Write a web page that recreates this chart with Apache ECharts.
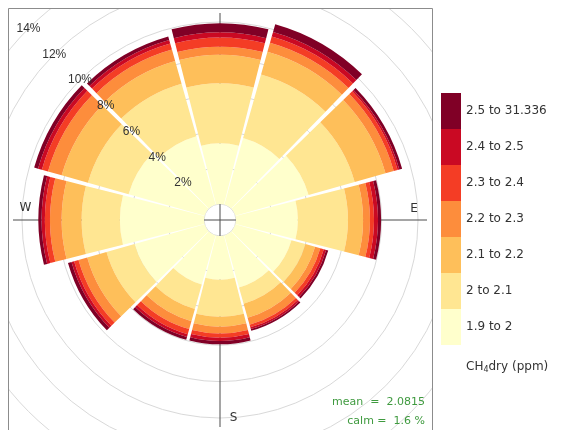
<!DOCTYPE html>
<html><head><meta charset="utf-8">
<script src="https://cdn.jsdelivr.net/npm/echarts@6/dist/echarts.min.js"></script>
<style>html,body{margin:0;padding:0;background:#fff}#c{width:566px;height:430px}</style>
</head><body><div id="c"></div>
<script>
// wind sectors (clockwise from north)
const directions = ['N','NNE','ENE','E','ESE','SSE','S','SSW','WSW','W','WNW','NNW'];
// concentration bins (ppm) and colours
const binLabels = ['1.9 to 2','2 to 2.1','2.1 to 2.2','2.2 to 2.3','2.3 to 2.4','2.4 to 2.5','2.5 to 31.336'];
const binColors = ['#FFFFCC','#FFE692','#FEBF5A','#FD8D3C','#F43D25','#CA0923','#800026'];
// frequency (%) of each bin per direction
const bin_1_9_to_2   = [3.33,3.80,4.18,3.40,3.20,2.97,2.40,2.80,4.00,4.62,4.34,3.90];
const bin_2_to_2_1   = [3.30,3.63,2.63,2.75,0.80,0.93,2.03,1.40,1.60,2.10,2.32,3.00];
const bin_2_1_to_2_2 = [1.56,1.29,1.76,0.83,0.55,0.80,0.55,0.70,1.10,1.10,1.50,1.30];
const bin_2_2_to_2_3 = [0.45,0.52,0.47,0.38,0.30,0.40,0.37,0.45,0.50,0.64,0.78,0.65];
const bin_2_3_to_2_4 = [0.50,0.35,0.22,0.22,0.20,0.15,0.24,0.30,0.25,0.28,0.35,0.35];
const bin_2_4_to_2_5 = [0.29,0.27,0.10,0.22,0.13,0.10,0.18,0.15,0.15,0.18,0.22,0.20];
const bin_2_5_to_31  = [0.50,0.44,0.16,0.17,0.12,0.10,0.18,0.16,0.20,0.18,0.22,0.20];
const binValues = [bin_1_9_to_2,bin_2_to_2_1,bin_2_1_to_2_2,bin_2_2_to_2_3,bin_2_3_to_2_4,bin_2_4_to_2_5,bin_2_5_to_31];
// radial percentage scale
const radiusMax = 16;
const radiusStep = 2;
const statsText = ['mean  =  2.0815', 'calm =  1.6 %'];

const C = [220, 220];
const inner = 16, pxPerPct = 18.2;
const outer = inner + pxPerPct * radiusMax;
const hidden = {show:false};

const chart = echarts.init(document.getElementById('c'));
chart.setOption({
  animation: false,
  backgroundColor: '#fff',
  polar: [
    {center: C, radius: [0, 207]},
    {center: C, radius: [inner, outer]},
    {center: C, radius: [inner, outer]},
    {center: C, radius: [inner, outer]}
  ],
  angleAxis: [
    {polarIndex:0, type:'value', min:0, max:360, interval:90, startAngle:90,
     axisLine:hidden, axisTick:hidden, axisLabel:hidden,
     splitLine:{show:true, lineStyle:{color:'#4d4d4d', width:1}}},
    {polarIndex:1, type:'value', min:0, max:360, startAngle:135,
     axisLine:hidden, axisTick:hidden, axisLabel:hidden, splitLine:hidden},
    {polarIndex:2, type:'category', data: directions, startAngle: 90 + 15, clockwise: true,
     axisLine:hidden, axisTick:hidden, axisLabel:hidden, splitLine:hidden},
    {polarIndex:3, type:'value', min:0, max:360, startAngle:135,
     axisLine:hidden, axisTick:hidden, axisLabel:hidden, splitLine:hidden}
  ],
  radiusAxis: [
    {polarIndex:0, type:'value', show:false, min:0, max:1},
    {polarIndex:1, type:'value', min:0, max:radiusMax, interval:radiusStep,
     axisLine:hidden, axisTick:hidden, axisLabel:hidden,
     splitLine:{show:true, showMinLine:false, lineStyle:{color:'#d9d9d9', width:1}}},
    {polarIndex:2, type:'value', min:0, max:radiusMax, show:false},
    {polarIndex:3, type:'value', min:0, max:radiusMax, interval:radiusStep, z:8,
     axisLine:hidden, axisTick:hidden, splitLine:hidden,
     axisLabel:{show:true, rotate:0, margin:0, align:'center', verticalAlign:'middle',
       fontFamily:'Liberation Sans', fontSize:12, color:'#333',
       formatter: v => v === 0 ? '' : v + '%'}}
  ],
  legend: {
    data: binLabels.slice().reverse(),
    orient:'vertical', left:441, top:93, padding:0,
    itemWidth:20, itemHeight:36, itemGap:0, icon:'rect', selectedMode:false, z:10,
    textStyle:{fontFamily:'DejaVu Sans', fontSize:12, color:'#333'}
  },
  series: binLabels.map((name, i) => ({
    name, type:'bar', coordinateSystem:'polar', polarIndex:2, stack:'rose',
    data: binValues[i], barCategoryGap:'5%',
    itemStyle:{color: binColors[i]}
  })),
  graphic: [
    {type:'rect', z:9, shape:{x:0,y:0,width:566,height:8}, style:{fill:'#fff'}, silent:true},
    {type:'rect', z:9, shape:{x:0,y:0,width:8,height:430}, style:{fill:'#fff'}, silent:true},
    {type:'rect', z:9, shape:{x:432,y:0,width:134,height:430}, style:{fill:'#fff'}, silent:true},
    {type:'rect', z:9, shape:{x:8.5,y:8.5,width:424,height:440}, style:{fill:null, stroke:'#8c8c8c', lineWidth:1}, silent:true},
    {type:'text', z:9, x:25.5, y:208, style:{text:'W', fontFamily:'DejaVu Sans', fontSize:12, fill:'#333', align:'center', verticalAlign:'middle'}},
    {type:'text', z:9, x:414, y:208.5, style:{text:'E', fontFamily:'DejaVu Sans', fontSize:12, fill:'#333', align:'center', verticalAlign:'middle'}},
    {type:'text', z:9, x:233.5, y:417.5, style:{text:'S', fontFamily:'DejaVu Sans', fontSize:12, fill:'#333', align:'center', verticalAlign:'middle'}},
    {type:'text', z:9, x:425, y:402.5, style:{text:statsText[0], fontFamily:'DejaVu Sans', fontSize:11, fill:'#3f9a3f', align:'right', verticalAlign:'middle'}},
    {type:'text', z:9, x:425, y:421.5, style:{text:statsText[1], fontFamily:'DejaVu Sans', fontSize:11, fill:'#3f9a3f', align:'right', verticalAlign:'middle'}},
    {type:'text', z:11, x:466, y:367, style:{
      text:'{a|CH}{s|4}{a|dry (ppm)}', align:'left', verticalAlign:'middle',
      rich:{a:{fontFamily:'DejaVu Sans', fontSize:12, fill:'#333'},
            s:{fontFamily:'DejaVu Sans', fontSize:8, fill:'#333', padding:[6,0,0,0]}}}}
  ]
});
</script></body></html>
